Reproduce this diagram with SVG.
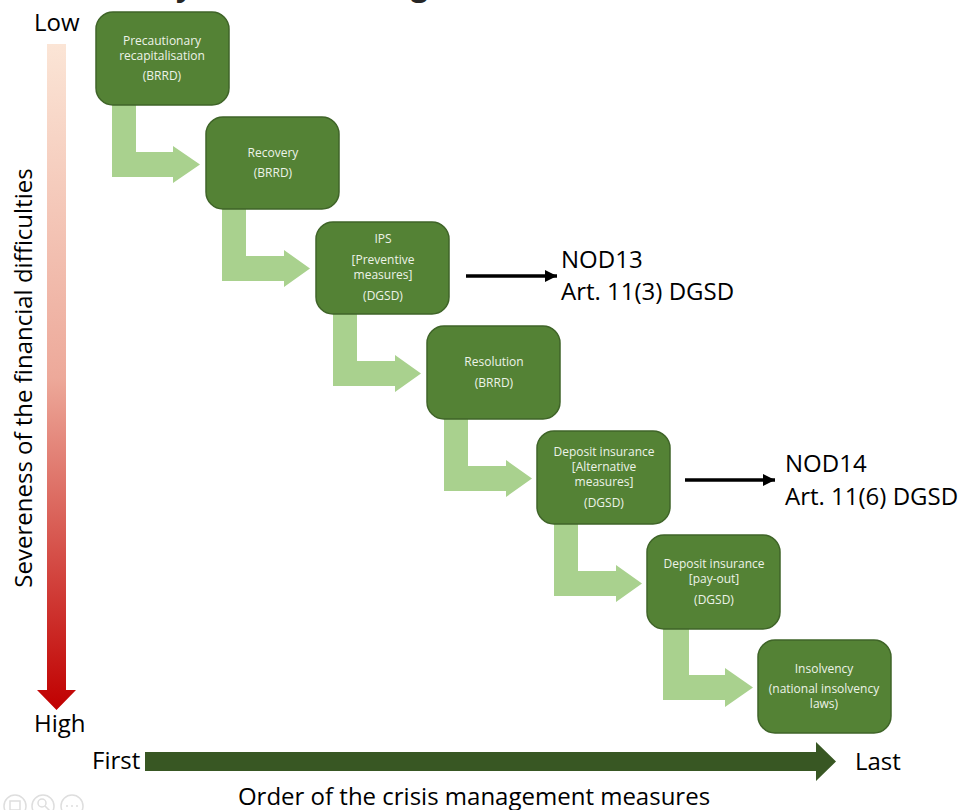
<svg xmlns="http://www.w3.org/2000/svg" width="961" height="810" viewBox="0 0 961 810">
<defs>
<linearGradient id="sev" gradientUnits="userSpaceOnUse" x1="0" y1="44" x2="0" y2="710">
<stop offset="0" stop-color="#fbe5d6"/><stop offset="0.5" stop-color="#eda99a"/><stop offset="1" stop-color="#c00000"/>
</linearGradient>
<marker id="ah" markerUnits="userSpaceOnUse" markerWidth="14" markerHeight="14" refX="12" refY="6" orient="auto"><path d="M0 0L12 6L0 12z" fill="#000"/></marker>
</defs>
<style>
.n{fill:#548235;stroke:#3f6428;stroke-width:1.5}
.t{font-family:"Open Sans","Noto Sans","Liberation Sans",sans-serif;font-size:12px;fill:#edf3e8;text-anchor:middle}
.l{font-family:"Open Sans","Noto Sans","Liberation Sans",sans-serif;font-size:24px;fill:#000}
.h{font-family:"Open Sans","Noto Sans","Liberation Sans",sans-serif;font-size:30px;font-weight:700;fill:#262626}
.e{fill:#a9d18e}
.i{fill:none;stroke:#dedede;stroke-width:1.5}
</style>
<g id="title"><text class="h" x="176" y="-4">y</text><text class="h" x="411" y="-4">g</text></g>
<g id="connectors">
<path class="e" d="M112 105H136V152H173V146L200 164.500L173 183V177H112Z"/>
<path class="e" d="M222 209H246V256H284V250L310 268.500L284 287V281H222Z"/>
<path class="e" d="M333 314H357V361H395V355L421 373.500L395 392V386H333Z"/>
<path class="e" d="M444 419H468V466H506V460L532 478.500L506 497V491H444Z"/>
<path class="e" d="M554 524H578V571H616V565L642 583.500L616 602V596H554Z"/>
<path class="e" d="M663 629H689V675H725V668L753 687.500L725 707V700H663Z"/>
<path d="M466 276H557" stroke="#000" stroke-width="3.500" fill="none" marker-end="url(#ah)"/>
<path d="M685 480H775" stroke="#000" stroke-width="3.500" fill="none" marker-end="url(#ah)"/>
</g>
<g id="severity-axis">
<path d="M47 44H66V690H76L56.500 710L37 690H47Z" fill="url(#sev)"/>
<text class="l" x="34" y="31">Low</text>
<text class="l" x="34" y="732">High</text>
<text class="l" transform="translate(32 378) rotate(-90)" text-anchor="middle">Severeness of the financial difficulties</text>
</g>
<g id="order-axis">
<path d="M145 752H816V742L836 761.500L816 781V771H145Z" fill="#385723"/>
<text class="l" x="92" y="769">First</text>
<text class="l" x="855" y="770">Last</text>
<text class="l" x="474" y="805" text-anchor="middle">Order of the crisis management measures</text>
</g>
<g id="n1"><rect class="n" x="96" y="12" width="133" height="93" rx="17"/>
<text class="t"><tspan x="162" y="45">Precautionary</tspan><tspan x="162" y="60">recapitalisation</tspan><tspan x="162" y="80">(BRRD)</tspan></text></g>
<g id="n2"><rect class="n" x="206" y="117" width="133" height="92" rx="17"/>
<text class="t"><tspan x="273" y="157">Recovery</tspan><tspan x="273" y="177">(BRRD)</tspan></text></g>
<g id="n3"><rect class="n" x="316" y="222" width="133" height="92" rx="17"/>
<text class="t"><tspan x="383" y="243">IPS</tspan><tspan x="383" y="264">[Preventive</tspan><tspan x="383" y="279">measures]</tspan><tspan x="383" y="300">(DGSD)</tspan></text></g>
<g id="n4"><rect class="n" x="427" y="326" width="133" height="93" rx="17"/>
<text class="t"><tspan x="494" y="366">Resolution</tspan><tspan x="494" y="387">(BRRD)</tspan></text></g>
<g id="n5"><rect class="n" x="537" y="431" width="133" height="93" rx="17"/>
<text class="t"><tspan x="604" y="456">Deposit insurance</tspan><tspan x="604" y="471">[Alternative</tspan><tspan x="604" y="486">measures]</tspan><tspan x="604" y="507">(DGSD)</tspan></text></g>
<g id="n6"><rect class="n" x="647" y="535" width="133" height="94" rx="17"/>
<text class="t"><tspan x="714" y="568">Deposit insurance</tspan><tspan x="714" y="583">[pay-out]</tspan><tspan x="714" y="604">(DGSD)</tspan></text></g>
<g id="n7"><rect class="n" x="758" y="640" width="133" height="93" rx="17"/>
<text class="t"><tspan x="824" y="673">Insolvency</tspan><tspan x="824" y="693">(national insolvency</tspan><tspan x="824" y="708">laws)</tspan></text></g>
<g id="nod13"><text class="l"><tspan x="561" y="268">NOD13</tspan><tspan x="561" y="300">Art. 11(3) DGSD</tspan></text></g>
<g id="nod14"><text class="l"><tspan x="785" y="472">NOD14</tspan><tspan x="785" y="505">Art. 11(6) DGSD</tspan></text></g>
<g id="viewer-icons">
<circle class="i" cx="15" cy="806" r="11"/><rect class="i" x="10" y="801" width="10" height="9"/>
<circle class="i" cx="43" cy="806" r="11"/><circle class="i" cx="42" cy="803" r="4"/><path class="i" d="M45 806L50 811"/>
<circle class="i" cx="72" cy="806" r="11"/><path class="i" d="M66 806h2M71 806h2M76 806h2"/>
</g>
</svg>
